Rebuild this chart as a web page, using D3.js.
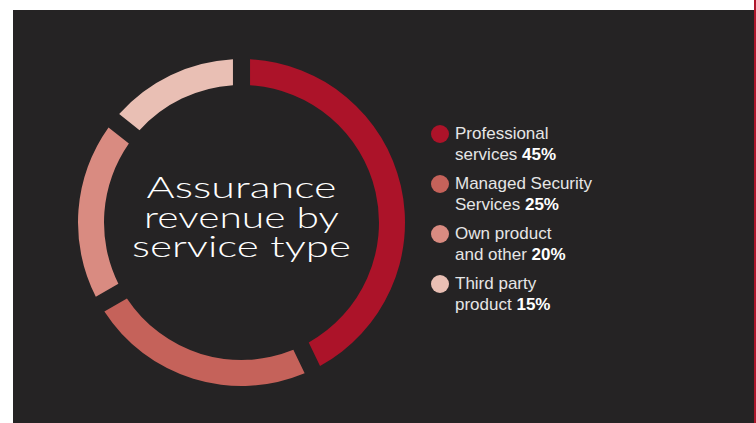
<!DOCTYPE html>
<html>
<head>
<meta charset="utf-8">
<script src="https://cdn.jsdelivr.net/npm/d3@7"></script>
<style>
  html, body { margin: 0; padding: 0; background: #ffffff; }
  svg { display: block; }
</style>
</head>
<body>
<svg id="chart" width="756" height="423"></svg>
<script>
// Service types, their revenue shares and colours
const categories = ["Professional services", "Managed Security Services", "Own product and other", "Third party product"];
const shares = [45, 25, 20, 15];
const legendLine1 = ["Professional", "Managed Security", "Own product", "Third party"];
const legendLine2 = ["services", "Services", "and other", "product"];
const colors = ["#ac1329", "#c5625a", "#d98b81", "#e9bfb4"];
const titleLines = ["Assurance", "revenue by", "service type"];
const titleWidths = [190, 195, 219];

const svg = d3.select("#chart");

// Dark panel with a red rule on the right edge
svg.append("rect").attr("x", 13).attr("y", 10).attr("width", 741).attr("height", 413).attr("fill", "#252324");
svg.append("rect").attr("x", 754).attr("y", 0).attr("width", 2).attr("height", 423).attr("fill", "#b0162c");

const cx = 241.5, cy = 222.5;
const outerR = 163.5, innerR = 137.5;

const pie = d3.pie().sort(null).value(d => d.value);
const arc = d3.arc().innerRadius(innerR).outerRadius(outerR).padAngle(0.08);

const data = categories.map((c, i) => ({ name: c, value: shares[i], color: colors[i] }));

const g = svg.append("g").attr("transform", `translate(${cx},${cy})`);
g.selectAll("path")
  .data(pie(data))
  .join("path")
  .attr("d", arc)
  .attr("fill", d => d.data.color);

// Title in the centre of the ring, one line per text element
g.selectAll("text.title")
  .data(titleLines)
  .join("text")
  .attr("class", "title")
  .attr("x", 0)
  .attr("y", (d, i) => -24.5 + i * 29.5)
  .attr("text-anchor", "middle")
  .attr("font-family", "Lato, sans-serif")
  .attr("font-weight", 300)
  .attr("font-size", 29)
  .attr("fill", "#ffffff")
  .attr("textLength", (d, i) => titleWidths[i])
  .attr("lengthAdjust", "spacingAndGlyphs")
  .text(d => d);

// Legend
const legend = svg.append("g").attr("transform", "translate(440,134)");
const items = legend.selectAll("g")
  .data(data)
  .join("g")
  .attr("transform", (d, i) => `translate(0,${i * 50})`);

items.append("circle").attr("r", 9).attr("fill", d => d.color);

const txt = items.append("text")
  .attr("font-family", "'Liberation Sans', Arial, sans-serif")
  .attr("font-size", 17)
  .attr("fill", "#e6e6e6");
txt.append("tspan").attr("x", 15).attr("y", 5).text((d, i) => legendLine1[i]);
txt.append("tspan").attr("x", 15).attr("y", 26).text((d, i) => legendLine2[i] + " ");
txt.append("tspan").attr("font-weight", "bold").attr("fill", "#ffffff").text(d => d.value + "%");
</script>
</body>
</html>
